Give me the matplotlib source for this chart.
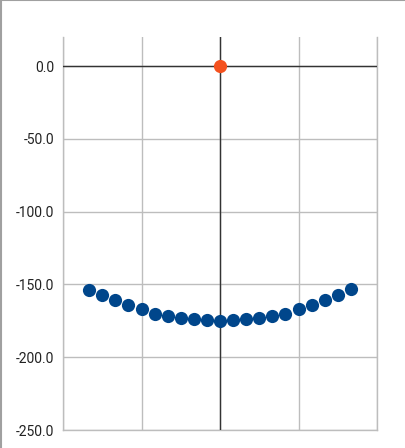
import numpy as np
import matplotlib
matplotlib.use('Agg')
import matplotlib.pyplot as plt
from matplotlib.lines import Line2D

plt.rcParams['font.family'] = ['Roboto', 'DejaVu Sans']

# Data
x_curve = [-10, -9, -8, -7, -6, -5, -4, -3, -2, -1, 0, 1, 2, 3, 4, 5, 6, 7, 8, 9, 10]
y_curve = [-153.5, -157.5, -160.7, -164.0, -167.0, -170.0, -171.5, -173.0, -174.0, -174.5, -175.0,
           -174.5, -174.0, -173.0, -171.5, -170.0, -167.0, -164.0, -160.7, -157.3, -153.2]
x_origin = [0]
y_origin = [0.0]

y_ticks = [0, -50, -100, -150, -200, -250]
x_ticks = [-12, -6, 0, 6, 12]

W, H = 405, 448
fig = plt.figure(figsize=(W / 100, H / 100), dpi=100)
ax = fig.add_axes([63 / W, 18 / H, 314 / W, 393 / H])

ax.set_xlim(-12, 12)
ax.set_ylim(-250, 20)
ax.set_xticks(x_ticks)
ax.set_yticks(y_ticks)
ax.set_xticklabels([])
ax.set_yticklabels(['%.1f' % v for v in y_ticks])
ax.tick_params(length=0, labelsize=10, labelcolor='#222222', pad=6.5)

for s in ax.spines.values():
    s.set_visible(False)

ax.grid(True, color='#bdbdbd', linewidth=1.0)
ax.set_axisbelow(True)
# edge grid lines, drawn unclipped so they stay fully visible
ax.axhline(y_ticks[-1], color='#bdbdbd', linewidth=1.0, clip_on=False, zorder=0.5)
ax.axvline(x_ticks[0], color='#bdbdbd', linewidth=1.0, clip_on=False, zorder=0.5)
ax.axvline(x_ticks[-1], color='#bdbdbd', linewidth=1.0, clip_on=False, zorder=0.5)

# zero lines
ax.axhline(0, color='#333333', linewidth=1.0, zorder=1)
ax.axvline(0, color='#333333', linewidth=1.0, zorder=1)

ax.plot(x_curve, y_curve, 'o', color='#00468b', markersize=9.5, markeredgewidth=0, zorder=3)
ax.plot(x_origin, y_origin, 'o', color='#f4511e', markersize=9.5, markeredgewidth=0, zorder=3)

# outer frame (top and left only)
fig.add_artist(Line2D([0, 1], [1 - 0.5 / H, 1 - 0.5 / H], color='#a0a0a0', linewidth=1.5,
                      transform=fig.transFigure))
fig.add_artist(Line2D([0.5 / W, 0.5 / W], [0, 1], color='#a0a0a0', linewidth=1.5,
                      transform=fig.transFigure))

fig.savefig('out.png', dpi=100)
